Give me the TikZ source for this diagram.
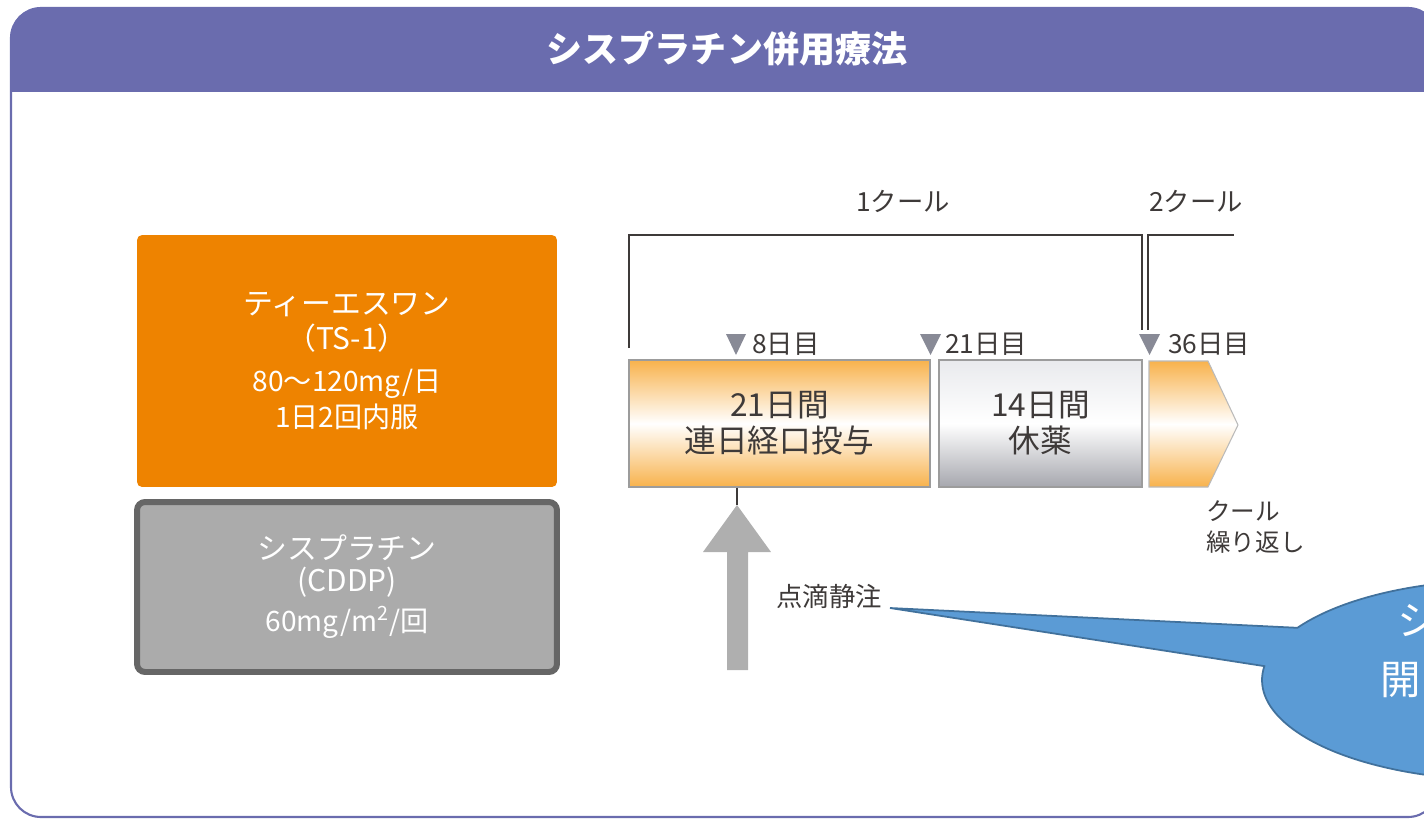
\documentclass[tikz,border=0pt]{standalone}
\usepackage{fontspec}
\setmainfont{Noto Sans CJK JP}
\usepackage{xcolor}
\usetikzlibrary{positioning}

\definecolor{headpurple}{HTML}{6A6CAE}
\definecolor{tsorange}{HTML}{EE8300}
\definecolor{cdgray}{HTML}{ABABAB}
\definecolor{cdborder}{HTML}{666666}
\definecolor{barorange}{HTML}{F8B24C}
\definecolor{barlight}{HTML}{E9EAED}
\definecolor{bardark}{HTML}{A6A7AE}
\definecolor{bargray}{HTML}{9C9C9C}
\definecolor{markgray}{HTML}{888A96}
\definecolor{arrowgray}{HTML}{AFAFAF}
\definecolor{darktext}{HTML}{3E3A39}
\definecolor{callblue}{HTML}{5B9BD5}
\definecolor{callline}{HTML}{41719C}

\begin{document}
\begin{tikzpicture}[x=0.02cm, y=-0.02cm,
    box/.style={align=center, inner sep=0pt, text=white},
    bar/.style={draw=bargray, line width=0.8pt, align=center, inner sep=0pt, text=darktext,
                minimum height=2.54cm, font=\fontsize{18}{20.5}\selectfont},
    tag/.style={text=darktext, inner sep=0pt, font=\fontsize{15}{18}\selectfont},
    tri/.style={fill=markgray},
    brace/.style={draw=darktext, line width=1pt}]
      \useasboundingbox (0,0) rectangle (1424,819);
      \clip (0,0) rectangle (1424,819);

      \begin{scope}
        \clip[rounded corners=0.6cm] (11,8) rectangle (1438,817);
        \fill[headpurple] (0,0) rectangle (1440,92);
      \end{scope}
      \draw[headpurple, line width=1.2pt, rounded corners=0.6cm] (11,8) rectangle (1438,817);
      \node[text=white, font=\fontsize{20.5}{24}\selectfont\bfseries] (title) at (727,49) {シスプラチン併用療法};

      \node[box, fill=tsorange, rounded corners=0.1cm, minimum width=8.4cm, minimum height=5.04cm,
            font=\fontsize{17}{20}\selectfont] (ts1) at (347,361)
            {ティーエスワン\\（TS-1）\\[4pt]{\fontsize{16}{20}\selectfont 80～120mg/日}\\{\fontsize{16}{20}\selectfont 1日2回内服}};
      \node[box, fill=cdgray, draw=cdborder, line width=3.4pt, rounded corners=0.16cm, minimum width=8.4cm, minimum height=3.4cm,
            font=\fontsize{17}{18}\selectfont] (cddp) at (347,587)
            {シスプラチン\\(CDDP)\\[5pt]{\fontsize{16}{20}\selectfont 60mg/m\textsuperscript{2}/回}};

      \node[tag] (c1) at (903,201) {1クール};
      \node[tag] (c2) at (1196,201) {2クール};
      \coordinate (b1s) at (629,348);
      \coordinate (b1a) at (629,235);
      \coordinate (b1b) at (1142,235);
      \coordinate (b1e) at (1142,330);
      \coordinate (b2s) at (1148,330);
      \coordinate (b2a) at (1148,235);
      \coordinate (b2e) at (1234,235);
      \draw[brace] (b1s) -- (b1a) -- (b1b) -- (b1e);
      \draw[brace] (b2s) -- (b2a) -- (b2e);

      \fill[tri] (726,334) -- (746,334) -- (736,355) -- cycle;
      \fill[tri] (920,334) -- (941,334) -- (930.5,355) -- cycle;
      \fill[tri] (1139,334) -- (1160,334) -- (1149.5,355) -- cycle;
      \node[tag, anchor=west] (d8)  at (752,344)  {8日目};
      \node[tag, anchor=west] (d21) at (945,344)  {21日目};
      \node[tag, anchor=west] (d36) at (1168,344) {36日目};

      \node[bar, minimum width=6.02cm, top color=barorange, bottom color=barorange, middle color=white] (dose) at (779.5,423.5)
            {21日間\\連日経口投与};
      \node[bar, minimum width=4.06cm, top color=barlight, bottom color=bardark, middle color=white] (rest) at (1040.5,423.5)
            {14日間\\休薬};
      \shadedraw[draw=bargray!70, line width=0.6pt, top color=barorange, bottom color=barorange, middle color=white]
            (1149,361) -- (1208,361) -- (1238,425) -- (1208,487) -- (1149,487) -- cycle;
      \node[tag, anchor=west, align=left, font=\fontsize{14}{17.5}\selectfont] (rep) at (1206,527) {クール\\繰り返し};

      \coordinate (inj) at (737,505);
      \draw[darktext, line width=1pt] (dose.south -| inj) -- (inj);
      \fill[arrowgray] (inj) -- (771,552) -- (748,552) -- (748,670) -- (727,670) -- (727,552) -- (703,552) -- cycle;
      \node[tag, anchor=west] (drip) at (776,596) {点滴静注};

      \coordinate (tip) at (890,608);
      \filldraw[fill=callblue, draw=callline, line width=1pt]
            (tip) -- (1297.4,627.8) arc[start angle=211.5, end angle=548, x radius=240, y radius=100] -- cycle;
      \node[anchor=west, text=white, inner sep=0pt, font=\fontsize{23}{26}\selectfont] (cs) at (1397,621) {シ};
      \node[anchor=west, text=white, inner sep=0pt, font=\fontsize{23}{26}\selectfont] (ck) at (1380,680) {開};
\end{tikzpicture}
\end{document}
